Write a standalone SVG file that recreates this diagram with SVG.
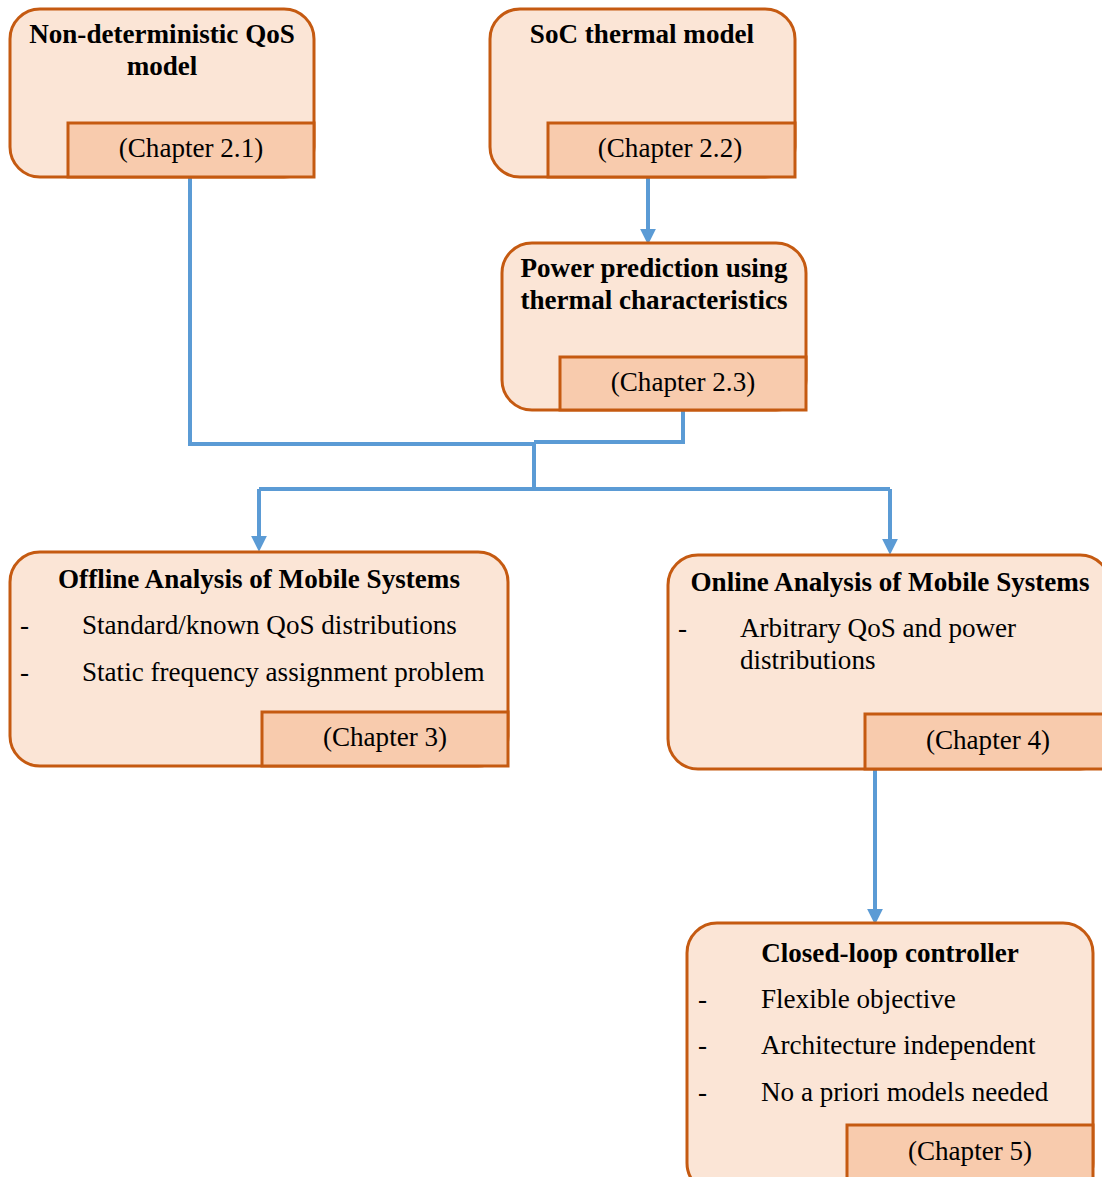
<svg xmlns="http://www.w3.org/2000/svg" width="1102" height="1177" viewBox="0 0 1102 1177">
<style>
.box{fill:#FBE5D6;stroke:#C55A11;stroke-width:3}
.chap{fill:#F8CBAD;stroke:#C55A11;stroke-width:3}
.t{font-family:"Liberation Serif","Times New Roman",serif;font-size:27.1px;fill:#000}
.b{font-weight:bold}
.c{text-anchor:middle}
.ln{fill:none;stroke:#5B9BD5;stroke-width:4}
</style>
<defs>
<marker id="ah" markerUnits="userSpaceOnUse" markerWidth="16" markerHeight="16" refX="2" refY="7" orient="auto" viewBox="0 0 14 14">
<path d="M0,0 L14,7 L0,14 z" fill="#5B9BD5"/>
</marker>
</defs>
<g id="connectors">
<path class="ln" d="M190 177 V444 H536"/>
<path class="ln" d="M683 410 V442 H534"/>
<path class="ln" d="M534 442 V489"/>
<path class="ln" d="M259 489 H890"/>
<path class="ln" d="M259 489 V538" marker-end="url(#ah)"/>
<path class="ln" d="M890 489 V541" marker-end="url(#ah)"/>
<path class="ln" d="M648 177 V231" marker-end="url(#ah)"/>
<path class="ln" d="M875 769 V911" marker-end="url(#ah)"/>
</g>
<g id="n1">
<rect class="box" x="10" y="9" width="304" height="168" rx="30"/>
<rect class="chap" x="68" y="123" width="246" height="54"/>
<text class="t b c" x="162" y="43">Non-deterministic QoS</text>
<text class="t b c" x="162" y="75">model</text>
<text class="t c" x="191" y="157">(Chapter 2.1)</text>
</g>
<g id="n2">
<rect class="box" x="490" y="9" width="305" height="168" rx="30"/>
<rect class="chap" x="548" y="123" width="247" height="54"/>
<text class="t b c" x="642" y="43">SoC thermal model</text>
<text class="t c" x="670" y="157">(Chapter 2.2)</text>
</g>
<g id="n3">
<rect class="box" x="502" y="243" width="304" height="167" rx="30"/>
<rect class="chap" x="560" y="357" width="246" height="53"/>
<text class="t b c" x="654" y="277">Power prediction using</text>
<text class="t b c" x="654" y="309">thermal characteristics</text>
<text class="t c" x="683" y="391">(Chapter 2.3)</text>
</g>
<g id="n4">
<rect class="box" x="10" y="552" width="498" height="214" rx="30"/>
<rect class="chap" x="262" y="712" width="246" height="54"/>
<text class="t b c" x="259" y="588">Offline Analysis of Mobile Systems</text>
<text class="t" x="20" y="634">-</text>
<text class="t" x="82" y="634">Standard/known QoS distributions</text>
<text class="t" x="20" y="681">-</text>
<text class="t" x="82" y="681">Static frequency assignment problem</text>
<text class="t c" x="385" y="746">(Chapter 3)</text>
</g>
<g id="n5">
<rect class="box" x="668" y="555" width="442" height="214" rx="30"/>
<rect class="chap" x="865" y="714" width="245" height="55"/>
<text class="t b c" x="890" y="591">Online Analysis of Mobile Systems</text>
<text class="t" x="678" y="637">-</text>
<text class="t" x="740" y="637">Arbitrary QoS and power</text>
<text class="t" x="740" y="669">distributions</text>
<text class="t c" x="988" y="749">(Chapter 4)</text>
</g>
<g id="n6">
<rect class="box" x="687" y="923" width="406" height="270" rx="30"/>
<rect class="chap" x="847" y="1125" width="246" height="70"/>
<text class="t b c" x="890" y="962">Closed-loop controller</text>
<text class="t" x="698" y="1008">-</text>
<text class="t" x="761" y="1008">Flexible objective</text>
<text class="t" x="698" y="1054">-</text>
<text class="t" x="761" y="1054">Architecture independent</text>
<text class="t" x="698" y="1101">-</text>
<text class="t" x="761" y="1101">No a priori models needed</text>
<text class="t c" x="970" y="1160">(Chapter 5)</text>
</g>
</svg>
